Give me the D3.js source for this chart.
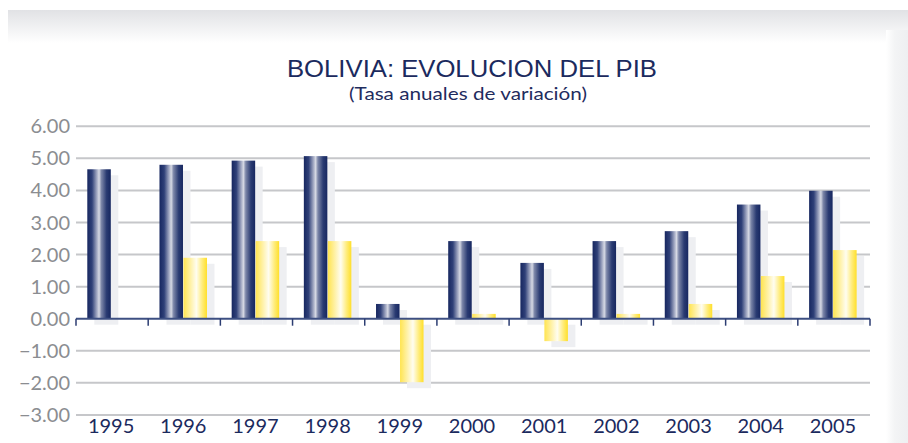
<!DOCTYPE html>
<html><head><meta charset="utf-8">
<script src="https://cdn.jsdelivr.net/npm/d3@7"></script>
<style>html,body{margin:0;padding:0;background:#fff;}svg{display:block;}</style>
</head><body>
<svg id="c" width="908" height="443"></svg>
<script>
const years = ["1995","1996","1997","1998","1999","2000","2001","2002","2003","2004","2005"];
const seriesA = [4.66, 4.80, 4.93, 5.07, 0.46, 2.42, 1.74, 2.42, 2.73, 3.56, 3.99];
const seriesB = [0, 1.90, 2.42, 2.42, -1.98, 0.15, -0.70, 0.15, 0.46, 1.33, 2.14];
const yTicks = [6, 5, 4, 3, 2, 1, 0, -1, -2, -3];
const title = "BOLIVIA: EVOLUCION DEL PIB";
const subtitle = "(Tasa anuales de variación)";

const svg = d3.select("#c");
const defs = svg.append("defs");
const topG = defs.append("linearGradient").attr("id","topg").attr("x1",0).attr("y1",0).attr("x2",0).attr("y2",1);
topG.append("stop").attr("offset","0%").attr("stop-color","#e1e2e5");
topG.append("stop").attr("offset","100%").attr("stop-color","#ffffff");
const rightG = defs.append("linearGradient").attr("id","rightg").attr("x1",0).attr("y1",0).attr("x2",1).attr("y2",0);
rightG.append("stop").attr("offset","0%").attr("stop-color","#ffffff");
rightG.append("stop").attr("offset","40%").attr("stop-color","#f3f4f5");
rightG.append("stop").attr("offset","100%").attr("stop-color","#eeeff1");
const blueG = defs.append("linearGradient").attr("id","blueg").attr("x1",0).attr("y1",0).attr("x2",1).attr("y2",0);
[[0,"#172760"],[0.2,"#2f4078"],[0.4,"#9ea5c0"],[0.5,"#d6d9e4"],[0.6,"#7c86a8"],[0.82,"#2a3b72"],[1,"#172760"]]
  .forEach(s=>blueG.append("stop").attr("offset",s[0]).attr("stop-color",s[1]));
const yelG = defs.append("linearGradient").attr("id","yelg").attr("x1",0).attr("y1",0).attr("x2",1).attr("y2",0);
[[0,"#ffe450"],[0.25,"#ffef98"],[0.55,"#fffdf0"],[0.8,"#ffec7a"],[1,"#ffdf2a"]]
  .forEach(s=>yelG.append("stop").attr("offset",s[0]).attr("stop-color",s[1]));

// background frame
svg.append("rect").attr("x",8).attr("y",10).attr("width",900).attr("height",33).attr("fill","url(#topg)");
svg.append("rect").attr("x",886).attr("y",30).attr("width",22).attr("height",413).attr("fill","url(#rightg)");

const x = d3.scaleBand().domain(years).range([76, 870]).padding(0);
const x1 = d3.scaleBand().domain(["a","b"]).range([11.3, 59.3]).padding(0);
const y = d3.scaleLinear().domain([-3, 6]).range([414.9, 126.3]);

// gridlines
svg.append("g").selectAll("line").data(yTicks.filter(t=>t!==0)).join("line")
  .attr("x1",76).attr("x2",870).attr("y1",d=>y(d)).attr("y2",d=>y(d))
  .attr("stroke","#c6c7ca").attr("stroke-width",2);

const data = [];
years.forEach((yr,i)=>{
  data.push({yr, k:"a", v:seriesA[i]});
  data.push({yr, k:"b", v:seriesB[i]});
});
const bars = data.filter(d=>d.v!==0);

// shadows
svg.append("g").selectAll("rect").data(bars).join("rect")
  .attr("x",d=>x(d.yr)+x1(d.k)+7)
  .attr("y",d=>Math.min(y(d.v),y(0))+6)
  .attr("width",x1.bandwidth())
  .attr("height",d=>Math.abs(y(d.v)-y(0)))
  .attr("fill","#eeeff2");

// bars
svg.append("g").selectAll("rect").data(bars).join("rect")
  .attr("x",d=>x(d.yr)+x1(d.k))
  .attr("y",d=>Math.min(y(d.v),y(0)))
  .attr("width",x1.bandwidth()-0.5)
  .attr("height",d=>Math.abs(y(d.v)-y(0)))
  .attr("fill",d=>d.k==="a"?"url(#blueg)":"url(#yelg)");

// zero axis
svg.append("line").attr("x1",76).attr("x2",870).attr("y1",y(0)).attr("y2",y(0))
  .attr("stroke","#3d4f82").attr("stroke-width",2);
const bounds = years.map(d=>x(d)).concat([870]);
svg.append("g").selectAll("line").data(bounds).join("line")
  .attr("x1",d=>d).attr("x2",d=>d).attr("y1",y(0)).attr("y2",y(0)+7)
  .attr("stroke","#2c3d72").attr("stroke-width",1.5);

// y labels
svg.append("g").selectAll("text").data(yTicks).join("text")
  .attr("x",70).attr("y",d=>y(d)).attr("dy","0.35em").attr("text-anchor","end")
  .attr("font-family","Lato, 'Open Sans', sans-serif").attr("font-size",20)
  .attr("fill","#8b8d91").text(d=>d3.format(".2f")(d));

// x labels
svg.append("g").selectAll("text").data(years).join("text")
  .attr("x",d=>x(d)+x.bandwidth()/2-1).attr("y",433)
  .attr("text-anchor","middle")
  .attr("font-family","Lato, 'Open Sans', sans-serif").attr("font-size",20)
  .attr("fill","#1b2a5e").text(d=>d);

// titles
svg.append("text").attr("x",287).attr("y",77)
  .attr("textLength",370).attr("lengthAdjust","spacingAndGlyphs")
  .attr("font-family","'Liberation Sans','Roboto',sans-serif").attr("font-size",23.5)
  .attr("fill","#1b2a5e").text(title);
svg.append("text").attr("x",349).attr("y",100)
  .attr("textLength",238).attr("lengthAdjust","spacingAndGlyphs")
  .attr("font-family","Lato, 'Open Sans', sans-serif").attr("font-size",17.5)
  .attr("fill","#1f2c5e").text(subtitle);
</script>
</body></html>
